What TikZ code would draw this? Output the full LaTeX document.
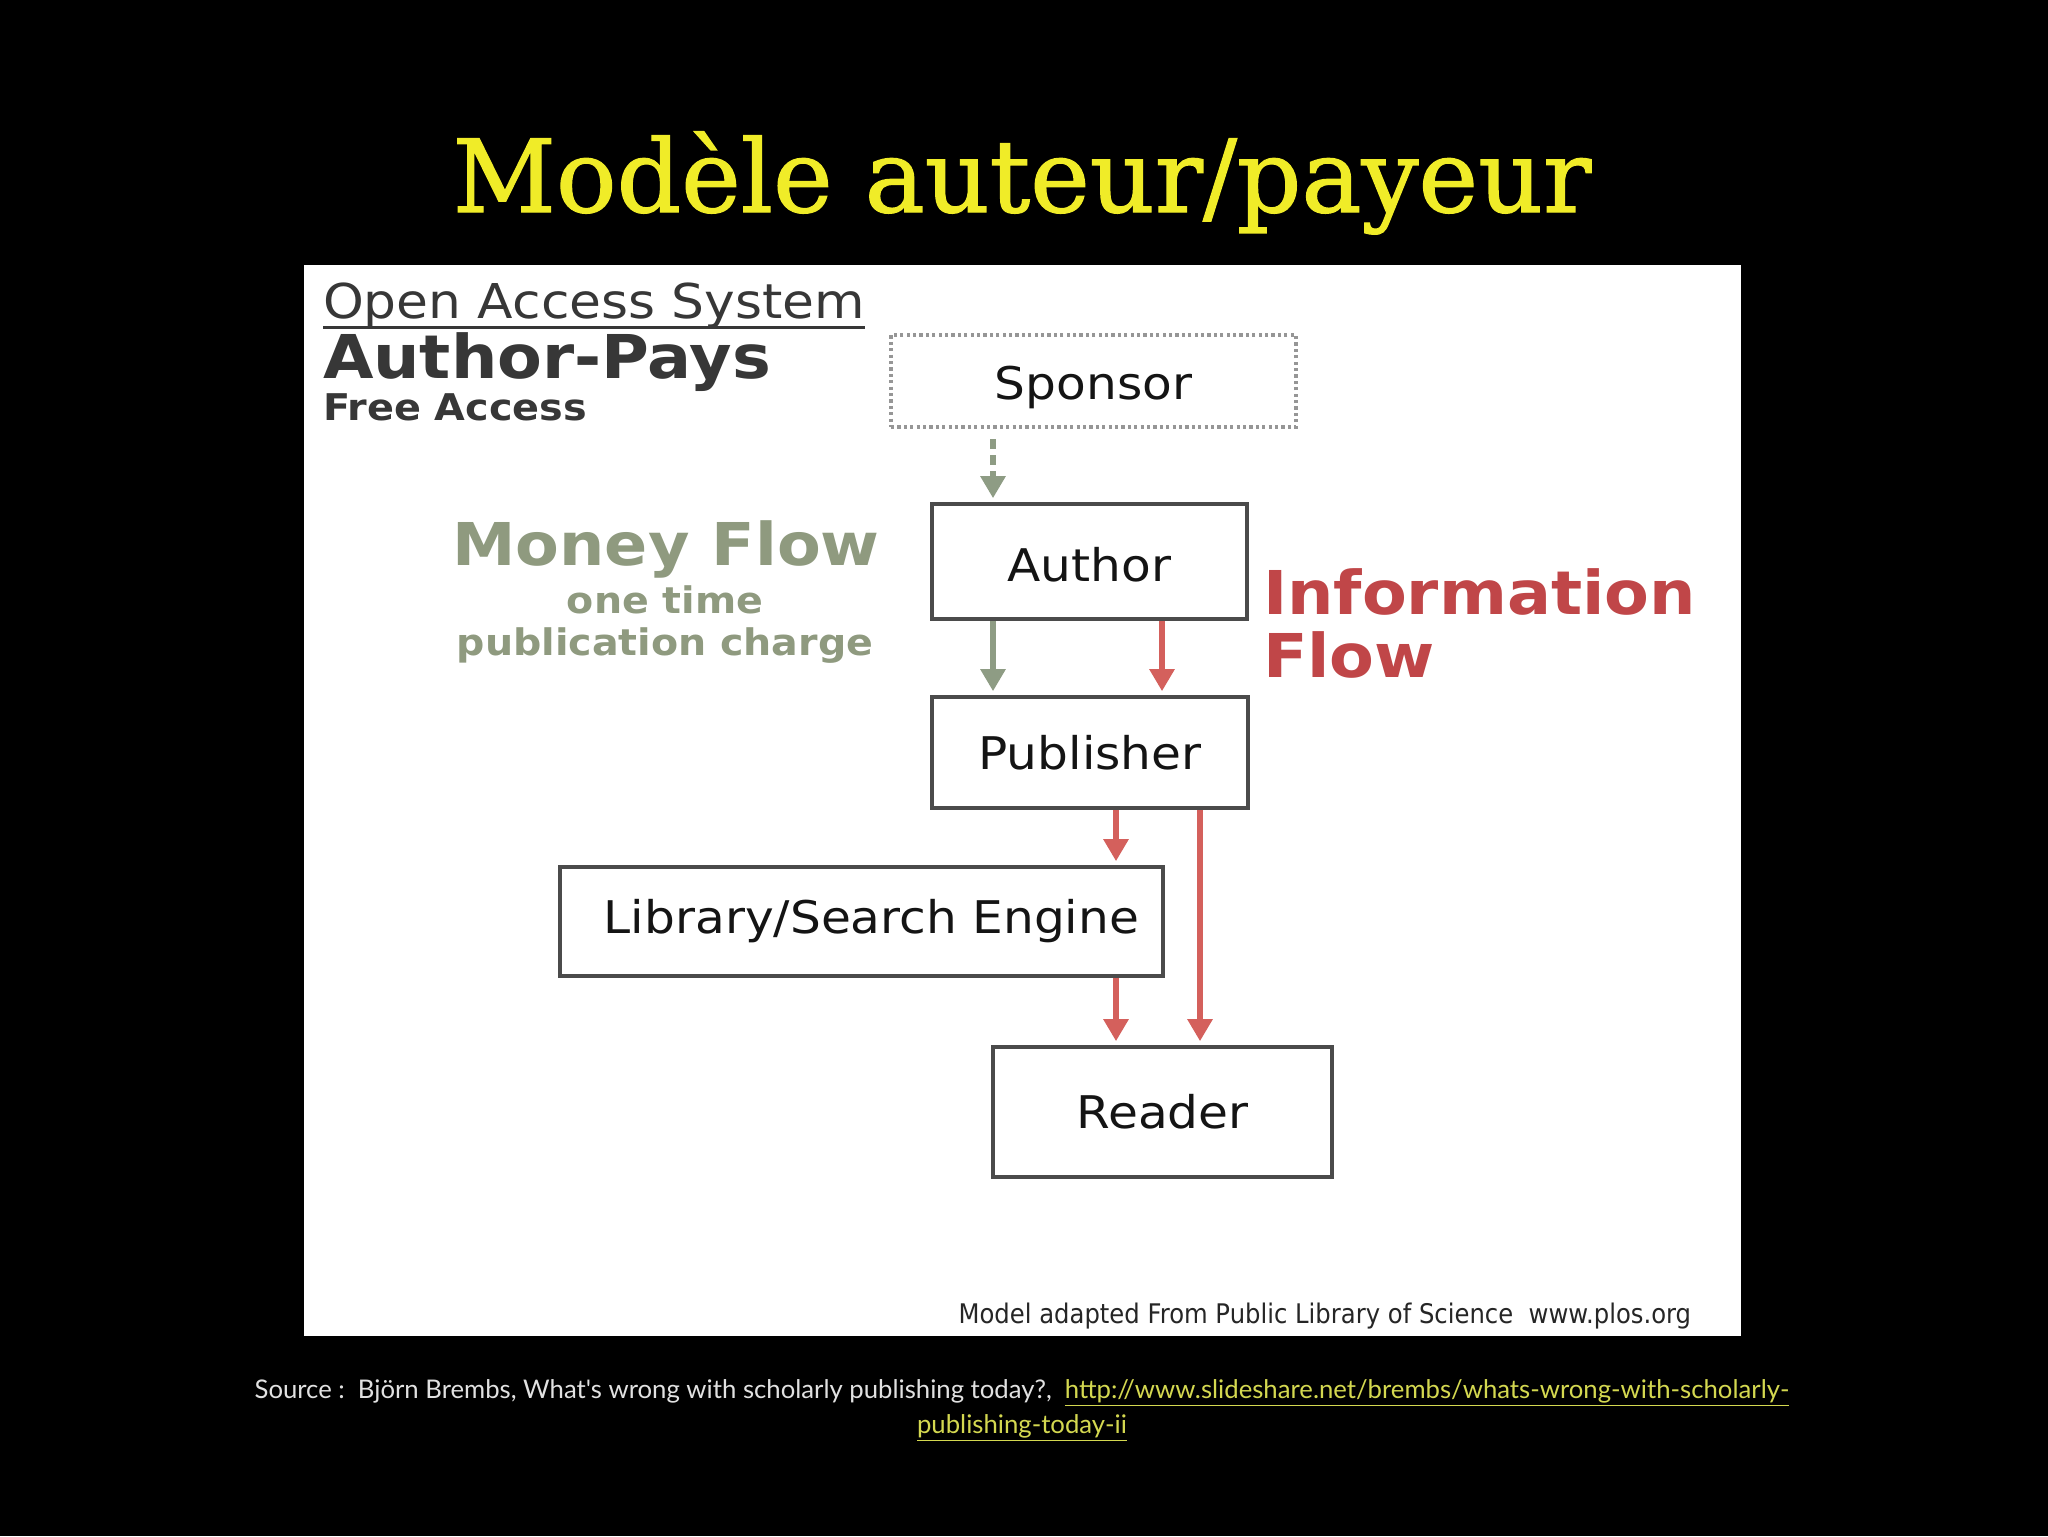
\documentclass[tikz,border=0pt]{standalone}
\usepackage{fontspec}
\setmainfont{DejaVu Sans}[FakeStretch=1.08]
\newfontfamily\titlefont{DejaVu Serif}[FakeBold=1.2]
\newfontfamily\footfont{Lato}
\newfontfamily\condfont{DejaVu Sans}[FakeStretch=0.9]
\usetikzlibrary{arrows.meta}
\definecolor{titley}{RGB}{240,236,40}
\definecolor{boxc}{RGB}{75,75,75}
\definecolor{darktxt}{RGB}{55,55,55}
\definecolor{moneyc}{RGB}{143,154,127}
\definecolor{infoc}{RGB}{192,70,72}
\definecolor{redarrc}{RGB}{212,96,92}
\definecolor{greenarrc}{RGB}{142,156,132}
\definecolor{dotc}{RGB}{150,150,150}
\definecolor{footc}{RGB}{225,225,225}
\definecolor{linkc}{RGB}{212,216,80}
\tikzset{
  flowbox/.style={draw=boxc, line width=1.8pt, fill=white, inner sep=0pt, text=black!92,
    font=\fontsize{22.5}{27}\selectfont},
  redarr/.style={draw=redarrc, line width=3.2pt, shorten >=2pt, -{Triangle[width=12pt,length=11pt]}},
  greenarr/.style={draw=greenarrc, line width=3.2pt, shorten >=2pt, -{Triangle[width=12pt,length=11pt]}},
  greendash/.style={greenarr, dash pattern=on 5pt off 3pt},
  plain/.style={inner sep=0pt, outer sep=0pt}
}
\begin{document}
\begin{tikzpicture}[x=0.5pt,y=-0.5pt]
\useasboundingbox (0,0) rectangle (2048,1536);
\fill[black] (0,0) rectangle (2048,1536);
% white panel
\fill[white] (304,265) rectangle (1741,1336);

% title
\node[plain, anchor=base, text=titley, font=\titlefont\fontsize{50.4}{58}\selectfont] (title) at (1022,212) {Modèle auteur/payeur};

% header texts
\node[plain, anchor=base west, text=darktxt, font=\fontsize{24}{28}\selectfont] (oas) at (323,318) {Open Access System};
\draw[darktxt, line width=1.5pt] ([yshift=-4.5pt]oas.base west) -- ([yshift=-4.5pt]oas.base east);
\node[plain, anchor=base west, text=darktxt, font=\bfseries\fontsize{30.2}{34}\selectfont] (ap) at (323,378) {Author-Pays};
\node[plain, anchor=base west, text=darktxt, font=\bfseries\fontsize{18.4}{22}\selectfont] (fa) at (323,420) {Free Access};

% money flow
\node[plain, anchor=base, text=moneyc, font=\bfseries\fontsize{29.5}{33}\selectfont] (mf) at (666,565) {Money Flow};
\node[plain, anchor=base, text=moneyc, font=\bfseries\fontsize{18.3}{22}\selectfont] (ot) at (665,613) {one time};
\node[plain, anchor=base, text=moneyc, font=\bfseries\fontsize{18.3}{22}\selectfont] (pc) at (665,655) {publication charge};

% information flow
\node[plain, anchor=base west, text=infoc, font=\bfseries\fontsize{30.2}{34}\selectfont] (inf) at (1263,614) {Information};
\node[plain, anchor=base west, text=infoc, font=\bfseries\fontsize{30.2}{34}\selectfont] (fl) at (1263,677) {Flow};

% boxes
\node[flowbox, draw=dotc, line width=2pt, dash pattern=on 1.6pt off 1.6pt, minimum width=202.5pt, minimum height=46pt, text height=20.5pt, text depth=2.2pt] (Sponsor) at (1093.5,381) {Sponsor};
\node[flowbox, minimum width=157.5pt, minimum height=57.5pt, text height=19.6pt, text depth=0pt] (Author) at (1089.5,561.5) {Author};
\node[flowbox, minimum width=158pt, minimum height=55.5pt] (Publisher) at (1090,752.5) {Publisher};
\node[flowbox, minimum width=301.5pt, minimum height=54.5pt] (Library) at (861.5,921.5) {\hspace*{10pt}Library/Search Engine};
\node[flowbox, minimum width=169.5pt, minimum height=65pt] (Reader) at (1162.5,1112) {Reader};

% arrow columns
\coordinate (gx) at (993,0);
\coordinate (rxa) at (1162,0);
\coordinate (rxb) at (1116,0);
\coordinate (rxc) at (1200,0);

\draw[greendash] ([yshift=-5pt]Sponsor.south -| gx) -- (Author.north -| gx);
\draw[greenarr] (Author.south -| gx) -- (Publisher.north -| gx);
\draw[redarr] (Author.south -| rxa) -- (Publisher.north -| rxa);
\draw[redarr] (Publisher.south -| rxb) -- (Library.north -| rxb);
\draw[redarr] (Library.south -| rxb) -- (Reader.north -| rxb);
\draw[redarr] (Publisher.south -| rxc) -- (Reader.north -| rxc);

% credit
\node[plain, anchor=base east, text=black!85, font=\condfont\fontsize{13.5}{16}\selectfont] (plos) at (1691,1323) {Model adapted From Public Library of Science\ \ www.plos.org};

% footer
\node[plain, anchor=base, text=footc, font=\footfont\fontsize{12.85}{15}\selectfont] (src) at (1022,1398) {Source :\ \ Björn Brembs, What's wrong with scholarly publishing today?,\ \ \textcolor{linkc}{\underline{http://www.slideshare.net/brembs/whats-wrong-with-scholarly-}}};
\node[plain, anchor=base, text=linkc, font=\footfont\fontsize{12.85}{15}\selectfont] (src2) at (1022,1433) {\underline{publishing-today-ii}};
\end{tikzpicture}
\end{document}
